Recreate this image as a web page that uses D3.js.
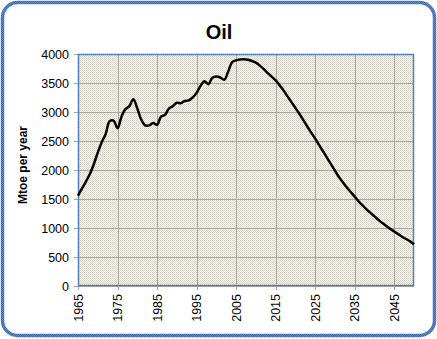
<!DOCTYPE html>
<html><head><meta charset="utf-8">
<script src="https://cdn.jsdelivr.net/npm/d3@7"></script>
<style>body{margin:0;background:#fff}svg{display:block}</style>
</head><body>
<svg id="c" width="437" height="339"></svg>
<script>
const years = d3.range(1965, 2051);
const oil = [
 1560,1680,1800,1930,2100,2300,2480,2620,2840,2850,
 2720,2920,3050,3100,3220,3060,2870,2770,2770,2810,
 2780,2920,2950,3060,3100,3160,3150,3190,3200,3250,
 3330,3450,3530,3480,3590,3610,3595,3555,3700,3860,
 3890,3905,3910,3900,3880,3850,3800,3740,3670,3610,
 3545,3460,3370,3270,3170,3070,2970,2860,2750,2645,
 2540,2430,2320,2210,2100,1990,1880,1790,1700,1620,
 1540,1460,1390,1320,1260,1200,1140,1085,1035,985,
 940,895,850,810,770,720
];
const yTicks = [0,500,1000,1500,2000,2500,3000,3500,4000];
const xTicks = [1965,1975,1985,1995,2005,2015,2025,2035,2045];
const title = "Oil";
const yTitle = "Mtoe per year";

const svg = d3.select("#c");
const defs = svg.append("defs");
const pat = defs.append("pattern").attr("id","dots").attr("width",2).attr("height",2).attr("patternUnits","userSpaceOnUse");
pat.append("rect").attr("width",2).attr("height",2).attr("fill","#fbfaf5");
pat.append("rect").attr("width",1).attr("height",1).attr("fill","#d4cfc4");
pat.append("rect").attr("x",1).attr("y",1).attr("width",1).attr("height",1).attr("fill","#dcd8ce");
const bp = defs.append("pattern").attr("id","bdots").attr("width",2).attr("height",2).attr("patternUnits","userSpaceOnUse");
bp.append("rect").attr("width",2).attr("height",2).attr("fill","#5b8ed0");
bp.append("rect").attr("width",1).attr("height",1).attr("fill","#3a68a8");
bp.append("rect").attr("x",1).attr("y",1).attr("width",1).attr("height",1).attr("fill","#3a68a8");

svg.append("rect").attr("x",2.5).attr("y",2.5).attr("width",432).attr("height",333)
  .attr("rx",15).attr("fill","#fff").attr("stroke","url(#bdots)").attr("stroke-width",3.5);

const L=78,R=414,T=54,B=286;
const x = d3.scaleLinear().domain([1965,2050]).range([L,R]);
const y = d3.scaleLinear().domain([0,4000]).range([B,T]);

svg.append("rect").attr("x",L).attr("y",T).attr("width",R-L).attr("height",B-T).attr("fill","url(#dots)");

const g = svg.append("g");
g.selectAll(".hg").data(yTicks).join("line")
  .attr("x1",L).attr("x2",R).attr("y1",d=>Math.round(y(d))+0.5).attr("y2",d=>Math.round(y(d))+0.5)
  .attr("stroke","#aaa69e").attr("stroke-width",1);
g.selectAll(".vg").data(xTicks).join("line")
  .attr("y1",T).attr("y2",B+4).attr("x1",d=>Math.round(x(d))+0.5).attr("x2",d=>Math.round(x(d))+0.5)
  .attr("stroke","#aaa69e").attr("stroke-width",1);
g.selectAll(".yt").data(yTicks).join("line")
  .attr("x1",L-4).attr("x2",L).attr("y1",d=>Math.round(y(d))+0.5).attr("y2",d=>Math.round(y(d))+0.5)
  .attr("stroke","#aaa69e");

svg.append("rect").attr("x",L+0.5).attr("y",T+0.5).attr("width",R-L-1).attr("height",B-T-1)
  .attr("fill","none").attr("stroke","#4f81bd").attr("stroke-width",1.5);

const line = d3.line().x((d,i)=>x(years[i])).y(d=>y(d)).curve(d3.curveCatmullRom.alpha(0.5));
svg.append("path").datum(oil).attr("d",line).attr("fill","none").attr("stroke","#000").attr("stroke-width",2.5).attr("stroke-linejoin","round");

svg.selectAll(".yl").data(yTicks).join("text")
  .attr("x",69).attr("y",d=>y(d)+4.5).attr("text-anchor","end")
  .attr("font-family","Liberation Sans, Arial, sans-serif").attr("font-size",12.5).attr("fill","#000")
  .text(d=>d);
svg.selectAll(".xl").data(xTicks).join("text")
  .attr("transform",d=>`translate(${x(d)+4.5},294) rotate(-90)`).attr("text-anchor","end")
  .attr("font-family","Liberation Sans, Arial, sans-serif").attr("font-size",12.5).attr("fill","#000")
  .text(d=>d);
svg.append("text").attr("x",219).attr("y",39).attr("text-anchor","middle")
  .attr("font-family","Liberation Sans, Arial, sans-serif").attr("font-weight","bold").attr("font-size",20)
  .text(title);
svg.append("text").attr("transform","translate(27,165) rotate(-90)").attr("text-anchor","middle")
  .attr("font-family","Liberation Sans, Arial, sans-serif").attr("font-weight","bold").attr("font-size",12)
  .text(yTitle);
</script>
</body></html>
